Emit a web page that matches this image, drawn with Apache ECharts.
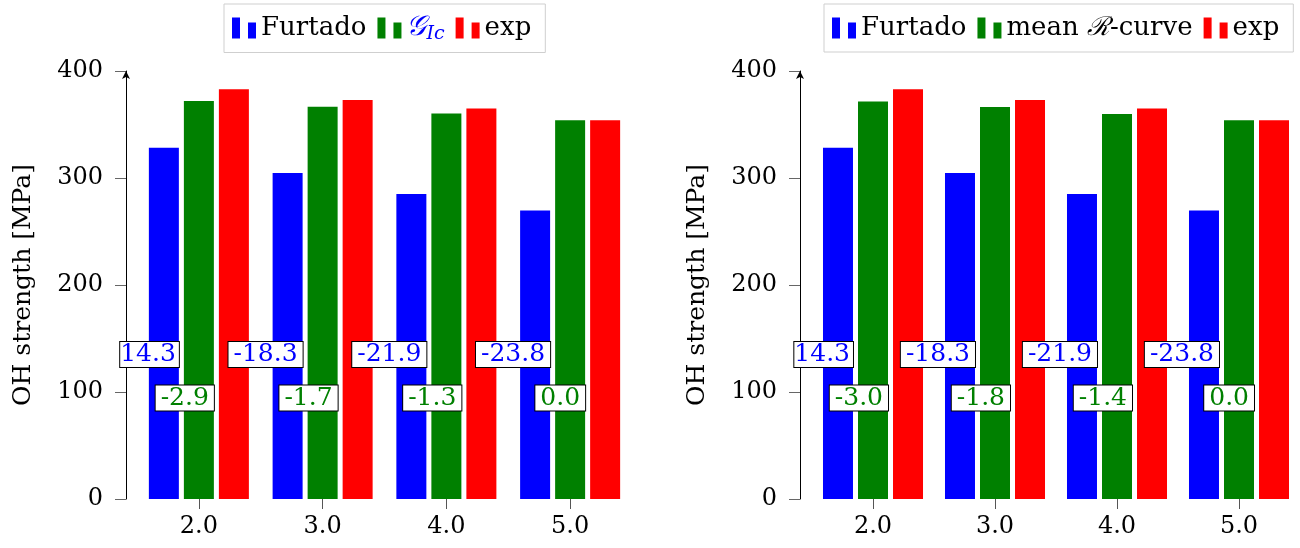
<!DOCTYPE html>
<html><head><meta charset="utf-8">
<script src="https://cdn.jsdelivr.net/npm/echarts@6/dist/echarts.min.js"></script>
<style>html,body{margin:0;padding:0;background:#fff}#c{width:1300px;height:548px}</style>
</head><body><div id="c"></div>
<script>
const categories = ['2.0', '3.0', '4.0', '5.0'];
const expValues = [383, 373, 365, 354];
const furtadoValues = [328.3, 304.7, 285.1, 269.7];
const gicValues = [371.9, 366.7, 360.3, 354.0];
const meanRValues = [371.5, 366.3, 359.9, 354.0];
const furtadoLabels = ['14.3', '-18.3', '-21.9', '-23.8'];
const gicLabels = ['-2.9', '-1.7', '-1.3', '0.0'];
const meanRLabels = ['-3.0', '-1.8', '-1.4', '0.0'];
const yMin = 0, yMax = 400, yInterval = 100;

const FONT = 'DejaVu Serif';
const BLUE = '#0000ff', GREEN = '#008000', RED = '#ff0000';
const ICON = 'path://M0,0h8v21h-8z M16,5h8v16h-8z';

function labelled(values, labels, color) {
  return values.map((v, i) => {
    const item = { value: v, label: { formatter: labels[i] } };
    if (i === 0 && labels[i].charAt(0) !== '-' && color === BLUE) item.label.padding = [1, 3, 1, 0];
    return item;
  });
}
function labelCfg(color, offY) {
  return {
    show: true, position: 'insideBottom', distance: 0,
    align: 'right', verticalAlign: 'middle', offset: [15, offY],
    color: color, fontFamily: FONT, fontSize: 25, lineHeight: 23,
    backgroundColor: '#fff', borderColor: '#000', borderWidth: 1, padding: [1, 5, 1, 5]
  };
}
function bars(idx, greenName, greenValues, greenLabels) {
  return [
    { name: 'Furtado', type: 'bar', xAxisIndex: idx, yAxisIndex: idx, barWidth: 30, barGap: '16.7%', z: 3,
      itemStyle: { color: BLUE }, data: labelled(furtadoValues, furtadoLabels, BLUE), label: labelCfg(BLUE, -144.5) },
    { name: greenName, type: 'bar', xAxisIndex: idx, yAxisIndex: idx, barWidth: 30, barGap: '16.7%', z: 3,
      itemStyle: { color: GREEN }, data: labelled(greenValues, greenLabels, GREEN), label: labelCfg(GREEN, -101) },
    { name: 'exp', type: 'bar', xAxisIndex: idx, yAxisIndex: idx, barWidth: 30, barGap: '16.7%', z: 2,
      itemStyle: { color: RED }, data: expValues }
  ];
}
function xAx(idx) {
  return { type: 'category', gridIndex: idx, data: categories,
    axisLine: { show: false },
    axisTick: { show: true, alignWithLabel: true, length: 10, lineStyle: { color: '#555' } },
    axisLabel: { fontFamily: FONT, fontSize: 24, color: '#000', margin: 16 } };
}
function yAx(idx, offset) {
  return { type: 'value', gridIndex: idx, min: yMin, max: yMax, interval: yInterval, offset: offset,
    name: 'OH strength [MPa]', nameLocation: 'middle', nameGap: 90,
    nameTextStyle: { fontFamily: FONT, fontSize: 25, color: '#000' },
    axisLine: { show: true, symbol: ['none', 'arrow'], symbolSize: [6, 8], lineStyle: { color: '#000', width: 1 } },
    axisTick: { show: true, length: 11, lineStyle: { color: '#666' } },
    axisLabel: { fontFamily: FONT, fontSize: 24, color: '#000', margin: 23 },
    splitLine: { show: false } };
}
function legendCfg(left, data, formatter) {
  return { left: left, top: 4, data: data, selectedMode: false, icon: ICON,
    itemWidth: 24, itemHeight: 21, itemGap: 11,
    borderColor: '#cfcfcf', borderWidth: 1, padding: [9, 14, 9, 8],
    formatter: formatter,
    textStyle: { fontFamily: FONT, fontSize: 26, color: '#000', lineHeight: 30,
      rich: {
        g: { fontFamily: FONT, fontSize: 28, fontStyle: 'italic', color: BLUE },
        sub: { fontFamily: FONT, fontSize: 19, fontStyle: 'italic', color: BLUE, padding: [12, 0, 0, 0] },
        r: { fontFamily: FONT, fontSize: 26, fontStyle: 'italic', color: '#000' }
      } } };
}

const chart = echarts.init(document.getElementById('c'), null, { renderer: 'canvas' });
chart.setOption({
  animation: false,
  backgroundColor: '#fff',
  grid: [
    { left: 137, top: 71, width: 495, height: 428 },
    { left: 812, top: 71, width: 495, height: 428 }
  ],
  legend: [
    legendCfg(224, ['Furtado', 'GIc', 'exp'], n => n === 'GIc' ? '{g|\u{1D4A2}}{sub|Ic}' : n),
    legendCfg(824, ['Furtado', 'meanR', 'exp'], n => n === 'meanR' ? 'mean {r|\u211B}-curve' : n)
  ],
  xAxis: [xAx(0), xAx(1)],
  yAxis: [yAx(0, 11), yAx(1, 12)],
  series: bars(0, 'GIc', gicValues, gicLabels).concat(bars(1, 'meanR', meanRValues, meanRLabels))
});
</script></body></html>
